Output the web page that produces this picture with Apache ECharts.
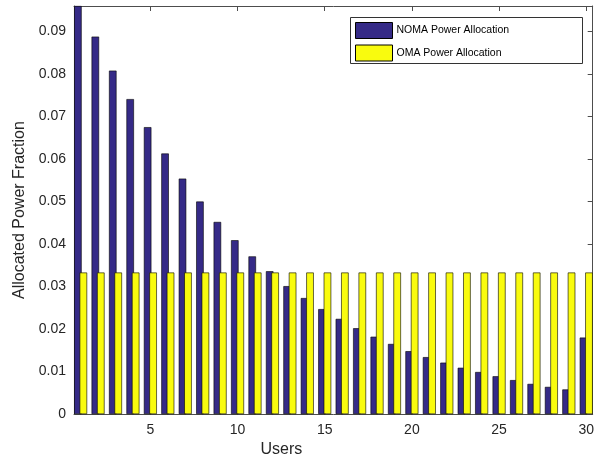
<!DOCTYPE html>
<html>
<head>
<meta charset="utf-8">
<script src="https://cdn.jsdelivr.net/npm/echarts@6/dist/echarts.min.js"></script>
<style>html,body{margin:0;padding:0;background:#fff;}#c{width:601px;height:463px;}</style>
</head>
<body>
<div id="c"></div>
<script>
const users = [1,2,3,4,5,6,7,8,9,10,11,12,13,14,15,16,17,18,19,20,21,22,23,24,25,26,27,28,29,30];
const nomaPower = [0.0960,0.0888,0.0808,0.0741,0.0675,0.0613,0.0554,0.0500,0.0452,0.0409,
                   0.0371,0.0336,0.0301,0.0273,0.0247,0.0224,0.0202,0.0182,0.0165,0.0148,
                   0.0134,0.0121,0.0109,0.0099,0.0089,0.0080,0.0071,0.0064,0.0058,0.0180];
const omaPower = [0.0333,0.0333,0.0333,0.0333,0.0333,0.0333,0.0333,0.0333,0.0333,0.0333,
                  0.0333,0.0333,0.0333,0.0333,0.0333,0.0333,0.0333,0.0333,0.0333,0.0333,
                  0.0333,0.0333,0.0333,0.0333,0.0333,0.0333,0.0333,0.0333,0.0333,0.0333];
const xTicks = [5,10,15,20,25,30];
const seriesNames = ['NOMA Power Allocation','OMA Power Allocation'];

const chart = echarts.init(document.getElementById('c'), null, {renderer:'canvas'});
const font = 'Liberation Sans, Arial, Helvetica, sans-serif';
const axisColor = '#4d4d4d';
const textColor = '#262626';
const xMin = 0.62, xMax = 30.37;
const yMax = 0.096;

function xAxisCfg(top){
  return {
    type:'value', min:xMin, max:xMax, position: top?'top':'bottom',
    axisLine:{show:true, onZero:false, lineStyle:{color:axisColor, width:1}},
    axisTick:{show:true, inside:true, length:5, customValues:xTicks, lineStyle:{color:axisColor}},
    axisLabel:{show:!top, customValues:xTicks, margin:9, fontSize:14, color:textColor, fontFamily:font},
    splitLine:{show:false},
    name: top ? '' : 'Users',
    nameLocation:'middle', nameGap:27,
    nameTextStyle:{fontSize:16, color:textColor, fontFamily:font, padding:[0,104,0,0]}
  };
}
function yAxisCfg(right){
  return {
    type:'value', min:0, max:yMax, interval:0.01, position: right?'right':'left',
    axisLine:{show:true, lineStyle:{color:axisColor, width:1}},
    axisTick:{show:true, inside:true, length:5, lineStyle:{color:axisColor}},
    axisLabel:{show:!right, margin:8, fontSize:14, color:textColor, fontFamily:font, showMaxLabel:false},
    splitLine:{show:false},
    name: right ? '' : 'Allocated Power Fraction',
    nameLocation:'middle', nameGap:44,
    nameTextStyle:{fontSize:16, color:textColor, fontFamily:font}
  };
}

chart.setOption({
  animation:false,
  backgroundColor:'#fff',
  grid:{left:74, right:8.3, top:6, bottom:47.3, containLabel:false},
  xAxis:[xAxisCfg(false), xAxisCfg(true)],
  yAxis:[yAxisCfg(false), yAxisCfg(true)],
  graphic:[{
    type:'rect', left:350, top:17, z:100,
    shape:{width:232, height:46},
    style:{fill:'#fff', stroke:'#333', lineWidth:1}
  }],
  legend:{
    orient:'vertical', left:355, top:22, padding:0, itemGap:5.5, z:101,
    itemWidth:37, itemHeight:16, icon:'rect',
    data: seriesNames,
    textStyle:{fontSize:10.5, color:'#000', fontFamily:font, padding:[0,0,0,-1]},
    itemStyle:{borderColor:'#000', borderWidth:1}
  },
  series:[
    {
      name:seriesNames[0], type:'bar', xAxisIndex:0, yAxisIndex:0,
      data: users.map((u,i)=>[u, nomaPower[i]]),
      barWidth:7.5, barGap:'-27%',
      itemStyle:{color:'#352A87', borderColor:'#000', borderWidth:0.6}
    },
    {
      name:seriesNames[1], type:'bar', xAxisIndex:0, yAxisIndex:0,
      data: users.map((u,i)=>[u, omaPower[i]]),
      barWidth:7.5, barGap:'-27%',
      itemStyle:{color:'#F9FB0E', borderColor:'#000', borderWidth:0.6}
    }
  ]
});
</script>
</body>
</html>
